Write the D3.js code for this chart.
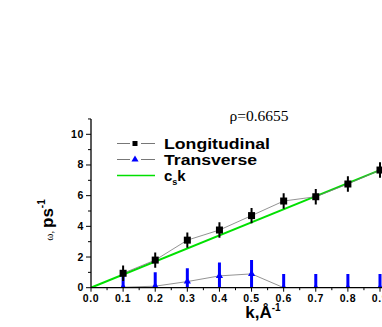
<!DOCTYPE html>
<html>
<head>
<meta charset="utf-8">
<script src="https://cdn.jsdelivr.net/npm/d3@7"></script>
<style>
  body { margin: 0; background: #fff; }
</style>
</head>
<body>
<svg width="382" height="327" font-family="Arial, 'Liberation Sans', sans-serif"></svg>
<script>
// k values, A^-1
var kVals = [0.1, 0.2, 0.3, 0.4, 0.5, 0.6, 0.7, 0.8, 0.9];
// longitudinal branch, ps^-1
var longW = [0.94, 1.8, 3.1, 3.76, 4.7, 5.65, 5.93, 6.76, 7.67];
var longErr = [0.5, 0.5, 0.5, 0.5, 0.5, 0.5, 0.5, 0.5, 0.5];
// transverse branch
var transW = [0.03, 0.1, 0.4, 0.77, 0.9, 0, 0, 0, 0];
var transErr = [0.93, 0.9, 0.86, 0.88, 0.9, 0.9, 0.9, 0.9, 0.9];
var cs = 8.52;
var xTicks = [0.0, 0.1, 0.2, 0.3, 0.4, 0.5, 0.6, 0.7, 0.8, 0.9];
var yTicks = [0, 2, 4, 6, 8, 10];

var svg = d3.select("svg");
var x = d3.scaleLinear().domain([0, 0.9]).range([91, 380]);
var y = d3.scaleLinear().domain([0, 10]).range([287.7, 134.3]);

// clip so error bars stop at the axis
svg.append("clipPath").attr("id", "plot")
  .append("rect").attr("x", 91).attr("y", 110).attr("width", 300).attr("height", 177.7);

var plot = svg.append("g").attr("clip-path", "url(#plot)");

// cs*k line
plot.append("line")
  .attr("x1", x(0)).attr("y1", y(0))
  .attr("x2", x(0.95)).attr("y2", y(cs * 0.95))
  .attr("stroke", "#00e000").attr("stroke-width", 2);

var line = d3.line().x(function(d) { return x(d[0]); }).y(function(d) { return y(d[1]); });

// transverse
plot.append("path")
  .attr("d", line(kVals.map(function(k, i) { return [k, transW[i]]; })))
  .attr("fill", "none").attr("stroke", "#777").attr("stroke-width", 0.8);
plot.selectAll(".terr").data(kVals).enter().append("line")
  .attr("x1", function(d) { return x(d); }).attr("x2", function(d) { return x(d); })
  .attr("y1", function(d, i) { return y(transW[i] - transErr[i]); })
  .attr("y2", function(d, i) { return y(transW[i] + transErr[i]); })
  .attr("stroke", "#0000ff").attr("stroke-width", 3);
var tri = d3.symbol().type(d3.symbolTriangle).size(22);
plot.selectAll(".tri").data(kVals).enter().append("path")
  .attr("d", tri)
  .attr("transform", function(d, i) { return "translate(" + x(d) + "," + y(transW[i]) + ")"; })
  .attr("fill", "#0000ff");

// longitudinal
plot.append("path")
  .attr("d", line(kVals.map(function(k, i) { return [k, longW[i]]; })))
  .attr("fill", "none").attr("stroke", "#777").attr("stroke-width", 0.8);
plot.selectAll(".lerr").data(kVals).enter().append("line")
  .attr("x1", function(d) { return x(d); }).attr("x2", function(d) { return x(d); })
  .attr("y1", function(d, i) { return y(longW[i] - longErr[i]); })
  .attr("y2", function(d, i) { return y(longW[i] + longErr[i]); })
  .attr("stroke", "#000").attr("stroke-width", 2);
plot.selectAll(".sq").data(kVals).enter().append("rect")
  .attr("x", function(d) { return x(d) - 3.5; })
  .attr("y", function(d, i) { return y(longW[i]) - 3.5; })
  .attr("width", 7).attr("height", 7).attr("fill", "#000");

// axes
var xAxis = svg.append("g").attr("transform", "translate(0,287.7)");
xAxis.append("line").attr("x1", 91).attr("x2", 382).attr("stroke", "#000").attr("stroke-width", 1.3);
xAxis.selectAll(".mj").data(xTicks).enter().append("line")
  .attr("x1", function(d) { return x(d); }).attr("x2", function(d) { return x(d); })
  .attr("y1", 0).attr("y2", 4).attr("stroke", "#000");
xAxis.selectAll(".mn").data(xTicks).enter().append("line")
  .attr("x1", function(d) { return x(d + 0.05); }).attr("x2", function(d) { return x(d + 0.05); })
  .attr("y1", 0).attr("y2", 2.5).attr("stroke", "#000");
xAxis.selectAll("text").data(xTicks).enter().append("text")
  .attr("x", function(d) { return x(d); }).attr("y", 14)
  .attr("text-anchor", "middle").attr("font-size", 10.5).attr("font-weight", "bold")
  .attr("letter-spacing", 0.6)
  .text(function(d) { return d.toFixed(1); });

var yAxis = svg.append("g");
yAxis.append("line").attr("x1", 91).attr("x2", 91).attr("y1", 287.7).attr("y2", 119)
  .attr("stroke", "#000").attr("stroke-width", 1.3);
yAxis.selectAll(".mj").data(yTicks).enter().append("line")
  .attr("x1", 86).attr("x2", 91)
  .attr("y1", function(d) { return y(d); }).attr("y2", function(d) { return y(d); })
  .attr("stroke", "#000");
yAxis.selectAll(".mn").data(yTicks).enter().append("line")
  .attr("x1", 88).attr("x2", 91)
  .attr("y1", function(d) { return y(d + 1); }).attr("y2", function(d) { return y(d + 1); })
  .attr("stroke", "#000");
yAxis.selectAll("text").data(yTicks).enter().append("text")
  .attr("x", 84).attr("y", function(d) { return y(d) + 3.5; })
  .attr("text-anchor", "end").attr("font-size", 10.5).attr("font-weight", "bold")
  .attr("letter-spacing", 0.6)
  .text(function(d) { return d; });

// axis titles
var xt = svg.append("text").attr("x", 263).attr("y", 318)
  .attr("text-anchor", "middle").attr("font-size", 17).attr("font-weight", "bold");
xt.append("tspan").text("k,Å");
xt.append("tspan").attr("dy", -7).attr("font-size", 10).text("-1");

var yt = svg.append("text").attr("transform", "translate(53,220) rotate(-90)")
  .attr("text-anchor", "middle").attr("font-weight", "bold");
yt.append("tspan").attr("font-size", 11).attr("font-family", "'Liberation Serif', serif").attr("font-weight", "normal").text("ω, ");
yt.append("tspan").attr("font-size", 17).text("ps");
yt.append("tspan").attr("dy", -8).attr("font-size", 10).text("-1");

// title
svg.append("text").attr("x", 259).attr("y", 121).attr("text-anchor", "middle")
  .attr("font-family", "'Liberation Serif', 'DejaVu Serif', serif").attr("font-size", 15.5).text("ρ=0.6655");

// legend
var lg = svg.append("g");
var rows = [143.5, 159.5, 175.5];
[0, 1].forEach(function(i) {
  lg.append("line").attr("x1", 117).attr("x2", 130).attr("y1", rows[i]).attr("y2", rows[i]).attr("stroke", "#777");
  lg.append("line").attr("x1", 141).attr("x2", 155).attr("y1", rows[i]).attr("y2", rows[i]).attr("stroke", "#777");
});
lg.append("rect").attr("x", 132.5).attr("y", rows[0] - 2.5).attr("width", 5).attr("height", 5).attr("fill", "#000");
lg.append("path").attr("d", d3.symbol().type(d3.symbolTriangle).size(22))
  .attr("transform", "translate(135," + rows[1] + ")").attr("fill", "#0000ff");
lg.append("line").attr("x1", 117).attr("x2", 155).attr("y1", rows[2]).attr("y2", rows[2])
  .attr("stroke", "#00e000").attr("stroke-width", 1.5);
var labels = ["Longitudinal", "Transverse"];
var labelLen = [106, 93];
labels.forEach(function(t, i) {
  lg.append("text").attr("x", 164).attr("y", rows[i] + 5).attr("font-size", 14)
    .attr("font-weight", "bold").attr("textLength", labelLen[i]).attr("lengthAdjust", "spacingAndGlyphs")
    .text(t);
});
var cl = lg.append("text").attr("x", 164).attr("y", rows[2] + 5).attr("font-size", 15).attr("font-weight", "bold");
cl.append("tspan").text("c");
cl.append("tspan").attr("dy", 4).attr("font-size", 9).text("s");
cl.append("tspan").attr("dy", -4).text("k");
</script>
</body>
</html>
